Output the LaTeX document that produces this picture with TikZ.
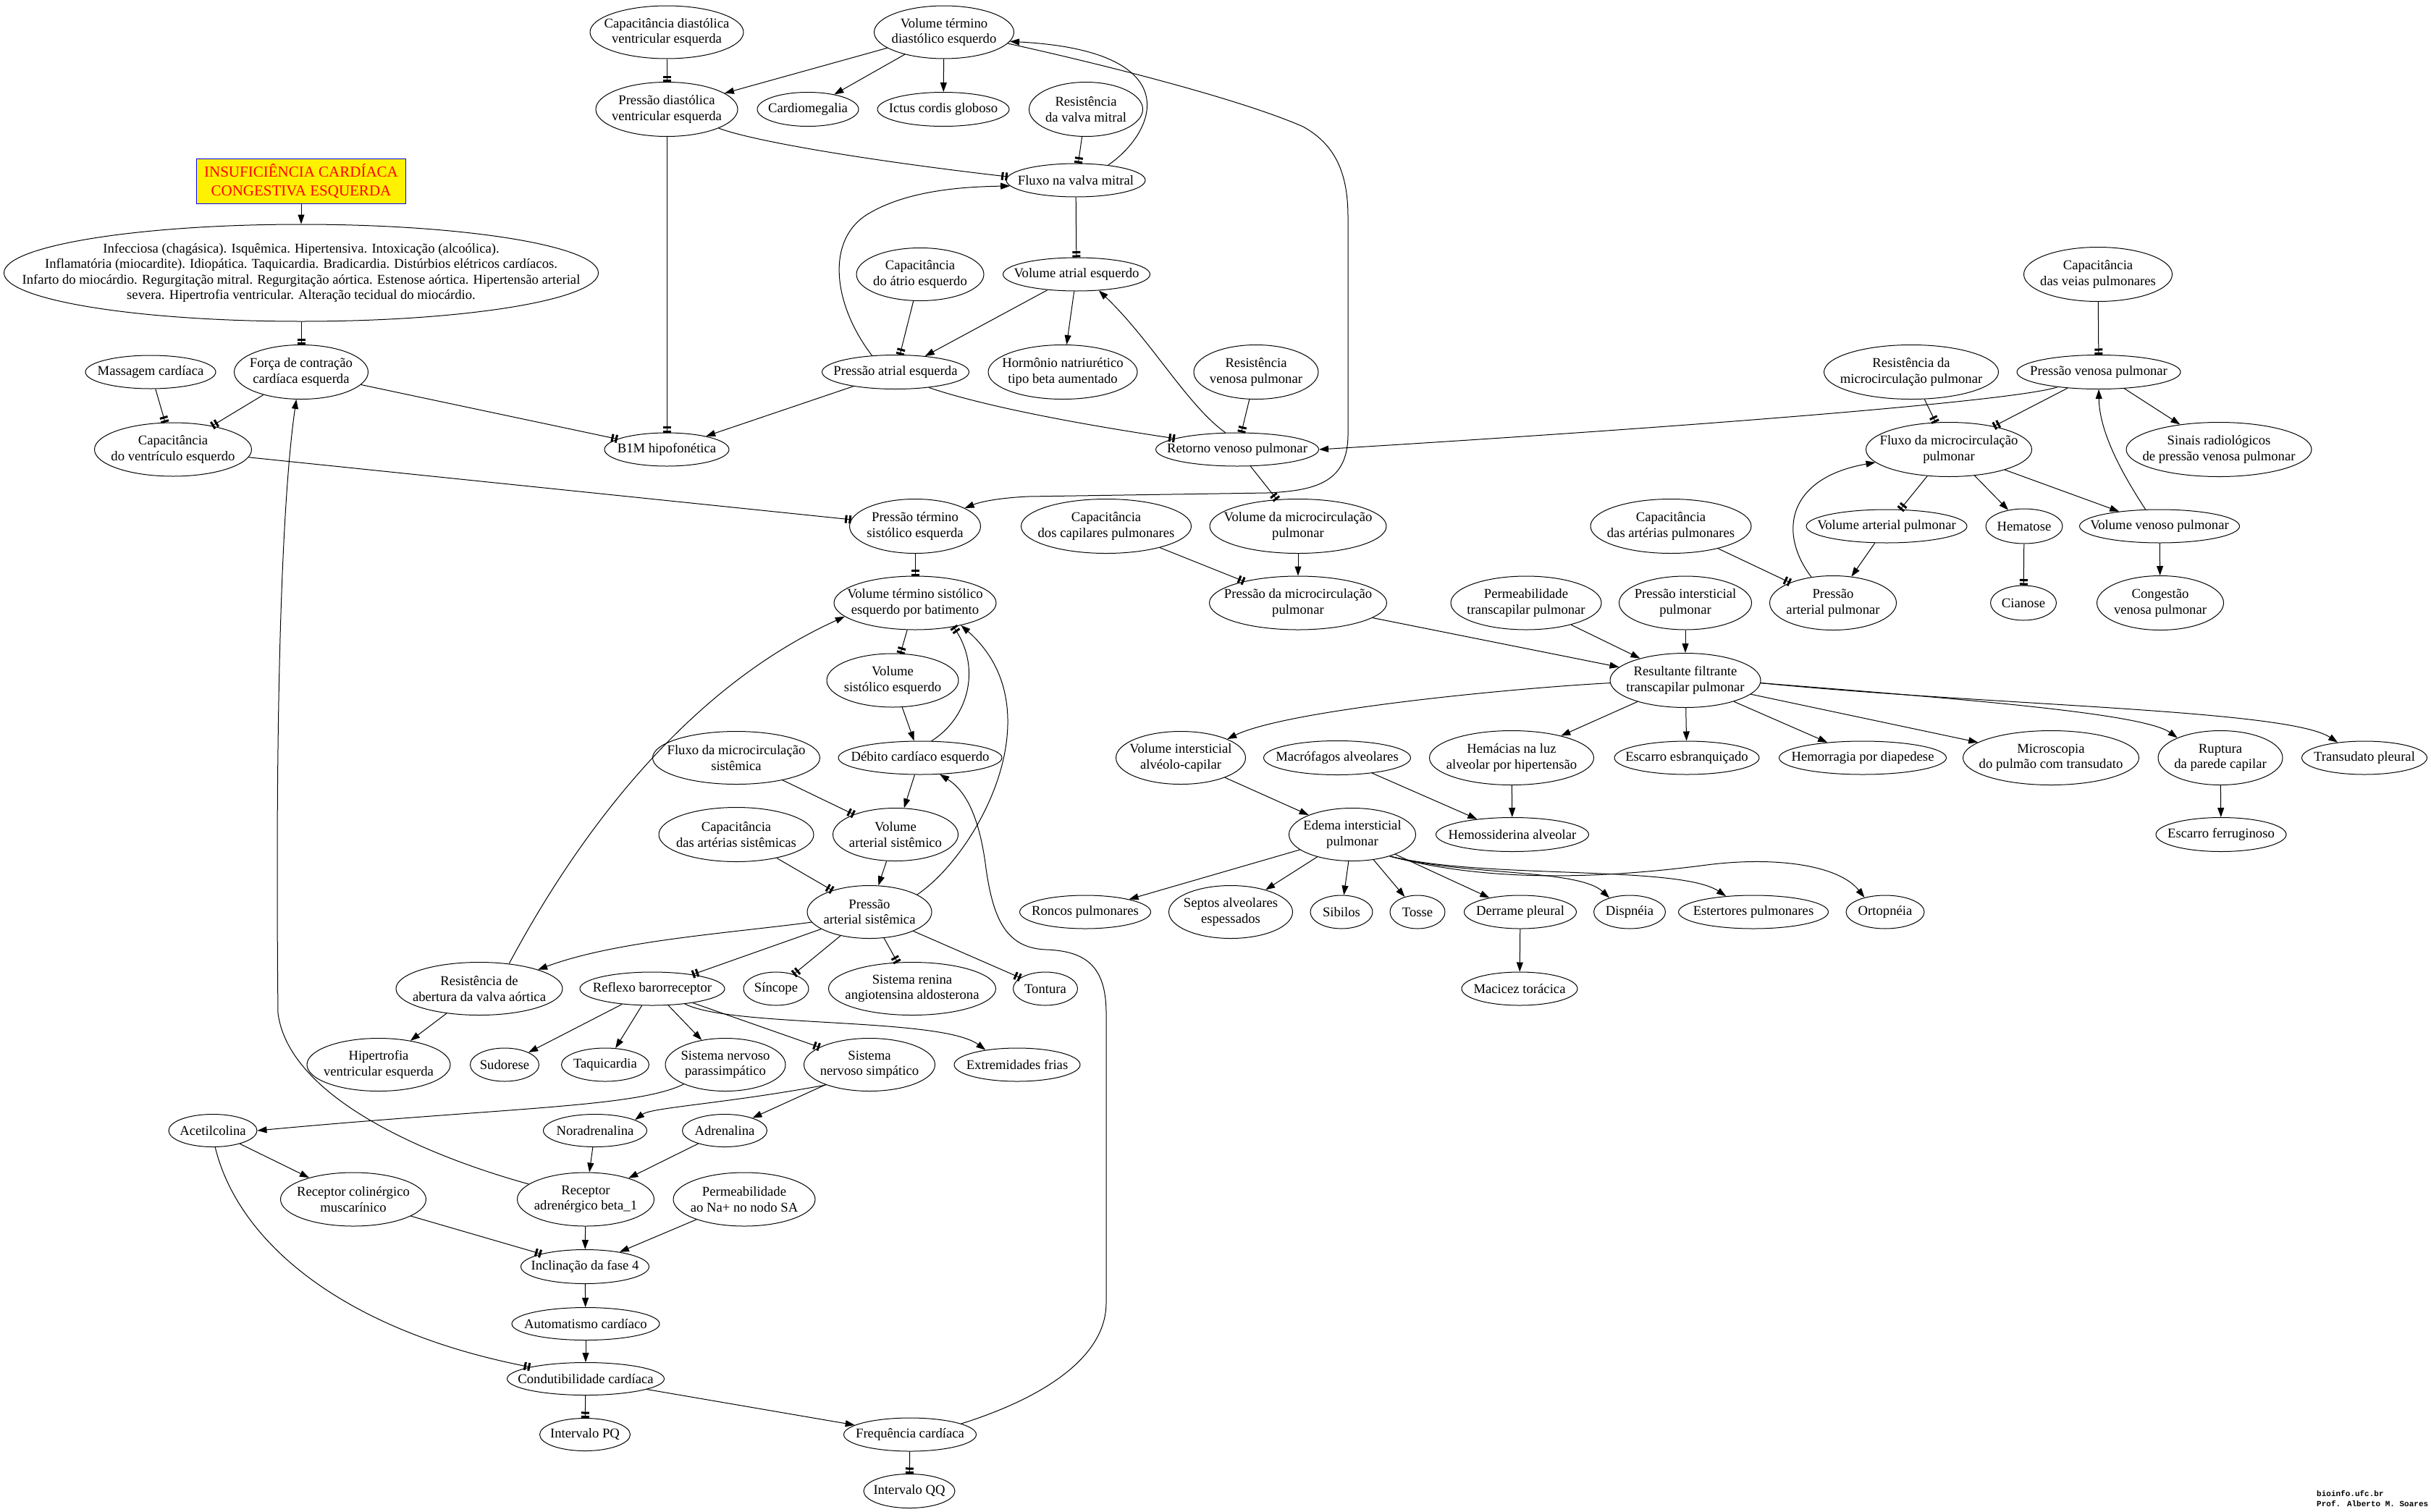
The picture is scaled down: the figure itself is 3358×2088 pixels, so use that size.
\documentclass[tikz,border=0pt]{standalone}
\usepackage{fontspec}
\setmainfont{Liberation Serif}
\newfontfamily\wmfont{Liberation Mono}
\usetikzlibrary{shapes.geometric,arrows.meta}
\newcommand\gvfont{\fontsize{18.67}{21.5}\selectfont}
\tikzset{
  E/.style n args={3}{ellipse, draw, line width=1pt, minimum width=#1pt, minimum height=#2pt, inner sep=0pt, label={[lbl]center:{#3}}},
  lbl/.style={align=center, font=\gvfont, inner sep=0pt},
  titlebox/.style={rectangle, draw=blue, fill=yellow, text=red, line width=1pt, minimum width=289pt, minimum height=62pt, inner sep=0pt, align=center, font=\fontsize{21}{26}\selectfont},
  act/.style={line width=1pt, -{Triangle[length=13pt,width=9pt]}},
  inh/.style={line width=1pt, -{Rectangle[length=3pt,width=11pt,sep=2.5pt]Rectangle[length=3pt,width=11pt]}},
}
\begin{document}
\begin{tikzpicture}[x=1pt,y=-1pt]
\fill[white] (0,0) rectangle (3358,2088);
\useasboundingbox (0,0) rectangle (3358,2088);
% ---------- nodes ----------
\node[E={212}{73}{Capacitância diastólica\\ventricular esquerda}] (cdve) at (921,44.5) {};
\node[E={193}{73}{Volume término\\diastólico esquerdo}] (vtde) at (1304,44.5) {};
\node[E={196}{75}{Pressão diastólica\\ventricular esquerda}] (pdve) at (921,151) {};
\node[E={140}{47}{Cardiomegalia}] (cardiomeg) at (1116,151) {};
\node[E={182}{47}{Ictus cordis globoso}] (ictus) at (1303,151) {};
\node[E={157}{75}{Resistência\\da valva mitral}] (rvm) at (1500,151) {};
\node[titlebox] (title) at (416,250) {INSUFICIÊNCIA CARDÍACA\\CONGESTIVA ESQUERDA};
\node[E={192}{46}{Fluxo na valva mitral}] (fvm) at (1486,249) {};
\node[E={821}{134}{Infecciosa (chagásica). Isquêmica. Hipertensiva. Intoxicação (alcoólica).\\Inflamatória (miocardite). Idiopática. Taquicardia. Bradicardia. Distúrbios elétricos cardíacos.\\Infarto do miocárdio. Regurgitação mitral. Regurgitação aórtica. Estenose aórtica. Hipertensão arterial\\severa. Hipertrofia ventricular. Alteração tecidual do miocárdio.}] (causes) at (416,377) {};
\node[E={176}{73}{Capacitância\\do átrio esquerdo}] (cae) at (1271,379) {};
\node[E={203}{46}{Volume atrial esquerdo}] (vae) at (1487,379) {};
\node[E={205}{75}{Capacitância\\das veias pulmonares}] (cvp) at (2898,379) {};
\node[E={180}{46}{Massagem cardíaca}] (mass) at (208,514) {};
\node[E={185}{75}{Força de contração\\cardíaca esquerda}] (fcce) at (416,514) {};
\node[E={203}{47}{Pressão atrial esquerda}] (pae) at (1237,514) {};
\node[E={206}{75}{Hormônio natriurético\\tipo beta aumentado}] (hnb) at (1468,514) {};
\node[E={172}{75}{Resistência\\venosa pulmonar}] (rvp) at (1735,514) {};
\node[E={241}{75}{Resistência da\\microcirculação pulmonar}] (rmp) at (2640,514) {};
\node[E={226}{47}{Pressão venosa pulmonar}] (pvp) at (2899,514) {};
\node[E={217}{74}{Capacitância\\do ventrículo esquerdo}] (cve) at (239,621) {};
\node[E={172}{46}{B1M hipofonética}] (b1m) at (921,621) {};
\node[E={225}{46}{Retorno venoso pulmonar}] (rvpul) at (1709,621) {};
\node[E={229}{75}{Fluxo da microcirculação\\pulmonar}] (fmp) at (2692,621) {};
\node[E={256}{75}{Sinais radiológicos\\de pressão venosa pulmonar}] (srp) at (3065,621) {};
\node[E={181}{75}{Pressão término\\sistólico esquerda}] (ptse) at (1264,727) {};
\node[E={235}{75}{Capacitância\\dos capilares pulmonares}] (ccp) at (1528,727) {};
\node[E={244}{75}{Volume da microcirculação\\pulmonar}] (vmp) at (1793,727) {};
\node[E={222}{75}{Capacitância\\das artérias pulmonares}] (cap) at (2308,727) {};
\node[E={222}{46}{Volume arterial pulmonar}] (vap) at (2606,727) {};
\node[E={106}{48}{Hematose}] (hema) at (2796,727) {};
\node[E={221}{46}{Volume venoso pulmonar}] (vvp) at (2983,727) {};
\node[E={224}{74}{Volume término sistólico\\esquerdo por batimento}] (vtse) at (1264,833) {};
\node[E={245}{74}{Pressão da microcirculação\\pulmonar}] (pmp) at (1793,833) {};
\node[E={208}{74}{Permeabilidade\\transcapilar pulmonar}] (perm) at (2108,833) {};
\node[E={183}{74}{Pressão intersticial\\pulmonar}] (pip) at (2328,833) {};
\node[E={175}{75}{Pressão\\arterial pulmonar}] (pap) at (2532,833) {};
\node[E={91}{48}{Cianose}] (cian) at (2795,833) {};
\node[E={175}{75}{Congestão\\venosa pulmonar}] (cvpul) at (2984,833) {};
\node[E={182}{74}{Volume\\sistólico esquerdo}] (vse) at (1233,940) {};
\node[E={208}{75}{Resultante filtrante\\transcapilar pulmonar}] (res) at (2328,940) {};
\node[E={226}{46}{Débito cardíaco esquerdo}] (dce) at (1271,1047) {};
\node[E={231}{73}{Fluxo da microcirculação\\sistêmica}] (fms) at (1017,1047) {};
\node[E={179}{73}{Volume intersticial\\alvéolo-capilar}] (vias) at (1631,1047) {};
\node[E={203}{47}{Macrófagos alveolares}] (macro) at (1847,1047) {};
\node[E={227}{75}{Hemácias na luz\\alveolar por hipertensão}] (hemac) at (2088,1047) {};
\node[E={200}{46}{Escarro esbranquiçado}] (escb) at (2330,1047) {};
\node[E={231}{46}{Hemorragia por diapedese}] (hemor) at (2573,1047) {};
\node[E={243}{75}{Microscopia\\do pulmão com transudato}] (micro) at (2833,1047) {};
\node[E={172}{75}{Ruptura\\da parede capilar}] (rupt) at (3067,1047) {};
\node[E={173}{46}{Transudato pleural}] (transp) at (3266,1047) {};
\node[E={214}{75}{Capacitância\\das artérias sistêmicas}] (cas) at (1017,1153) {};
\node[E={173}{73}{Volume\\arterial sistêmico}] (vas) at (1237,1153) {};
\node[E={175}{73}{Edema intersticial\\pulmonar}] (edema) at (1868,1153) {};
\node[E={211}{47}{Hemossiderina alveolar}] (hemos) at (2089,1153) {};
\node[E={180}{47}{Escarro ferruginoso}] (escf) at (3068,1153) {};
\node[E={172}{73}{Pressão\\arterial sistêmica}] (psa) at (1201,1260) {};
\node[E={181}{46}{Roncos pulmonares}] (roncos) at (1499,1260) {};
\node[E={171}{73}{Septos alveolares\\espessados}] (septos) at (1700,1260) {};
\node[E={86}{46}{Sibilos}] (sib) at (1853,1260) {};
\node[E={76}{46}{Tosse}] (tosse) at (1958,1260) {};
\node[E={155}{46}{Derrame pleural}] (derr) at (2100,1260) {};
\node[E={99}{46}{Dispnéia}] (disp) at (2251,1260) {};
\node[E={207}{46}{Estertores pulmonares}] (ester) at (2422,1260) {};
\node[E={108}{46}{Ortopnéia}] (orto) at (2604,1260) {};
\node[E={230}{73}{Resistência de\\abertura da valva aórtica}] (rava) at (662,1366) {};
\node[E={200}{46}{Reflexo barorreceptor}] (refl) at (901,1366) {};
\node[E={90}{46}{Síncope}] (sinc) at (1072,1366) {};
\node[E={231}{73}{Sistema renina\\angiotensina aldosterona}] (sraa) at (1260,1366) {};
\node[E={89}{46}{Tontura}] (tont) at (1444,1366) {};
\node[E={160}{46}{Macicez torácica}] (maci) at (2099,1366) {};
\node[E={198}{73}{Hipertrofia\\ventricular esquerda}] (hipt) at (523,1471) {};
\node[E={95}{46}{Sudorese}] (sudo) at (697,1471) {};
\node[E={121}{46}{Taquicardia}] (taqui) at (836,1471) {};
\node[E={166}{73}{Sistema nervoso\\parassimpático}] (snp) at (1002,1471) {};
\node[E={181}{73}{Sistema\\nervoso simpático}] (sns) at (1201,1471) {};
\node[E={174}{46}{Extremidades frias}] (extr) at (1405,1471) {};
\node[E={122}{45}{Acetilcolina}] (acet) at (294,1562) {};
\node[E={143}{45}{Noradrenalina}] (nora) at (822,1562) {};
\node[E={117}{45}{Adrenalina}] (adre) at (1001,1562) {};
\node[E={201}{74}{Receptor colinérgico\\muscarínico}] (rcm) at (488,1657) {};
\node[E={189}{74}{Receptor\\adrenérgico beta\_1}] (rab) at (809,1657) {};
\node[E={196}{74}{Permeabilidade\\ao Na+ no nodo SA}] (pna) at (1028,1657) {};
\node[E={177}{47}{Inclinação da fase 4}] (incl) at (808,1750) {};
\node[E={204}{45}{Automatismo cardíaco}] (auto) at (809,1829) {};
\node[E={217}{45}{Condutibilidade cardíaca}] (cond) at (809,1905) {};
\node[E={125}{45}{Intervalo PQ}] (ipq) at (808,1982) {};
\node[E={183}{46}{Frequência cardíaca}] (fc) at (1257,1982) {};
\node[E={126}{47}{Intervalo QQ}] (iqq) at (1256,2060) {};
\node[anchor=south west, align=left, inner sep=0pt, font={\fontsize{11}{14}\selectfont\wmfont\bfseries}] (wm) at (3200,2082) {bioinfo.ufc.br\\Prof. Alberto M. Soares};
% ---------- edges ----------
\draw[inh] (cdve) -- (pdve);
\draw[act] (vtde) -- (pdve);
\draw[act] (vtde) -- (cardiomeg);
\draw[act] (vtde) -- (ictus);
\draw[inh] (pdve.-20) .. controls (1040,195) and (1200,222) .. (fvm.177);
\draw[inh] (pdve) -- (b1m);
\draw[inh] (rvm) -- (fvm);
\draw[act] (fvm.25) .. controls (1600,180) and (1640,70) .. (vtde.-8);
\draw[act] (vtde.-10) .. controls (1550,95) and (1720,140) .. (1800,175) .. controls (1845,200) and (1862,240) .. (1862,300) -- (1862,600) .. controls (1862,665) and (1820,678) .. (1750,681) -- (1420,686) .. controls (1380,688) and (1355,693) .. (ptse.20);
\draw[inh] (mass) -- (cve);
\draw[inh] (fcce) -- (cve);
\draw[inh] (fcce) -- (b1m);
\draw[inh] (causes) -- (fcce);
\draw[act] (title) -- (causes);
\draw[inh] (cve) -- (ptse);
\draw[act] (pae) -- (b1m);
\draw[act] (pae.145) .. controls (1150,420) and (1140,330) .. (1200,295) .. controls (1254,263) and (1330,258) .. (fvm.185);
\draw[inh] (pae.-25) .. controls (1340,555) and (1450,580) .. (rvpul.170);
\draw[inh] (fvm) -- (vae);
\draw[inh] (cae) -- (pae);
\draw[act] (vae) -- (pae);
\draw[act] (vae) -- (hnb);
\draw[act] (rvpul.125) .. controls (1640,560) and (1590,470) .. (vae.-36);
\draw[inh] (rvp) -- (rvpul);
\draw[act] (pvp.-160) .. controls (2780,555) and (2300,592) .. (rvpul.east);
\draw[inh] (rvpul) -- (vmp);
\draw[inh] (cvp) -- (pvp);
\draw[inh] (rmp) -- (fmp);
\draw[inh] (pvp) -- (fmp);
\draw[act] (pvp) -- (srp);
\draw[act] (vvp.130) .. controls (2935,660) and (2900,600) .. (pvp.-90);
\draw[inh] (fmp) -- (vap);
\draw[act] (fmp) -- (hema);
\draw[act] (fmp) -- (vvp);
\draw[act] (pap.130) .. controls (2455,735) and (2470,660) .. (fmp.190);
\draw[inh] (cap) -- (pap);
\draw[act] (vap) -- (pap);
\draw[inh] (hema) -- (cian);
\draw[act] (vvp) -- (cvpul);
\draw[inh] (ptse) -- (vtse);
\draw[inh] (vtse) -- (vse);
\draw[act] (vse) -- (dce);
\draw[inh] (dce.56) .. controls (1340,990) and (1355,920) .. (vtse.-32);
\draw[act] (psa.20) .. controls (1350,1180) and (1460,980) .. (vtse.-26);
\draw[act] (rava.40) .. controls (800,1150) and (950,950) .. (vtse.-169);
\draw[inh] (fms) -- (vas);
\draw[act] (dce) -- (vas);
\draw[inh] (cas) -- (psa);
\draw[act] (vas) -- (psa);
\draw[act] (fc.12) .. controls (1430,1935) and (1528,1880) .. (1528,1800) -- (1528,1400) .. controls (1528,1335) and (1500,1314) .. (1445,1312) .. controls (1390,1310) and (1372,1270) .. (1362,1200) .. controls (1352,1120) and (1330,1090) .. (dce.-40);
\draw[act] (psa.-170) .. controls (1000,1290) and (850,1300) .. (rava.18);
\draw[inh] (psa) -- (refl);
\draw[inh] (psa) -- (sinc);
\draw[inh] (psa) -- (sraa);
\draw[inh] (psa) -- (tont);
\draw[act] (rava) -- (hipt);
\draw[act] (refl) -- (sudo);
\draw[act] (refl) -- (taqui);
\draw[act] (refl) -- (snp);
\draw[inh] (refl) -- (sns);
\draw[act] (refl.-25) .. controls (1010,1420) and (1300,1405) .. (extr.155);
\draw[act] (snp.-155) .. controls (880,1530) and (700,1530) .. (acet.east);
\draw[act] (sns.-155) .. controls (1000,1525) and (900,1530) .. (nora.15);
\draw[act] (sns) -- (adre);
\draw[act] (acet) -- (rcm);
\draw[inh] (acet.-82) .. controls (330,1720) and (480,1840) .. (cond.168);
\draw[act] (nora) -- (rab);
\draw[act] (adre) -- (rab);
\draw[act] (rab.165) .. controls (600,1600) and (400,1520) .. (384,1400) .. controls (380,1000) and (388,700) .. (fcce.-100);
\draw[inh] (rcm) -- (incl);
\draw[act] (rab) -- (incl);
\draw[act] (pna) -- (incl);
\draw[act] (incl) -- (auto);
\draw[act] (auto) -- (cond);
\draw[inh] (cond) -- (ipq);
\draw[act] (cond) -- (fc);
\draw[inh] (fc) -- (iqq);
\draw[inh] (ccp) -- (pmp);
\draw[act] (vmp) -- (pmp);
\draw[act] (pmp) -- (res);
\draw[act] (perm) -- (res);
\draw[act] (pip) -- (res);
\draw[act] (res.182) .. controls (2100,950) and (1780,980) .. (vias.22);
\draw[act] (res) -- (hemac);
\draw[act] (res) -- (escb);
\draw[act] (res) -- (hemor);
\draw[act] (res) -- (micro);
\draw[act] (res.-2) .. controls (2700,965) and (2960,985) .. (rupt.155);
\draw[act] (res.-2) .. controls (2750,975) and (3160,980) .. (transp.150);
\draw[act] (rupt) -- (escf);
\draw[act] (vias) -- (edema);
\draw[act] (macro) -- (hemos);
\draw[act] (hemac) -- (hemos);
\draw[act] (edema) -- (roncos);
\draw[act] (edema) -- (septos);
\draw[act] (edema) -- (sib);
\draw[act] (edema) -- (tosse);
\draw[act] (edema) -- (derr);
\draw[act] (edema.-30) .. controls (2020,1210) and (2180,1200) .. (disp.145);
\draw[act] (edema.-30) .. controls (2050,1215) and (2320,1195) .. (ester.150);
\draw[act] (edema.-30) .. controls (2050,1218) and (2200,1215) .. (2350,1196) .. controls (2450,1182) and (2540,1195) .. (orto.145);
\draw[act] (derr) -- (maci);
\end{tikzpicture}
\end{document}
